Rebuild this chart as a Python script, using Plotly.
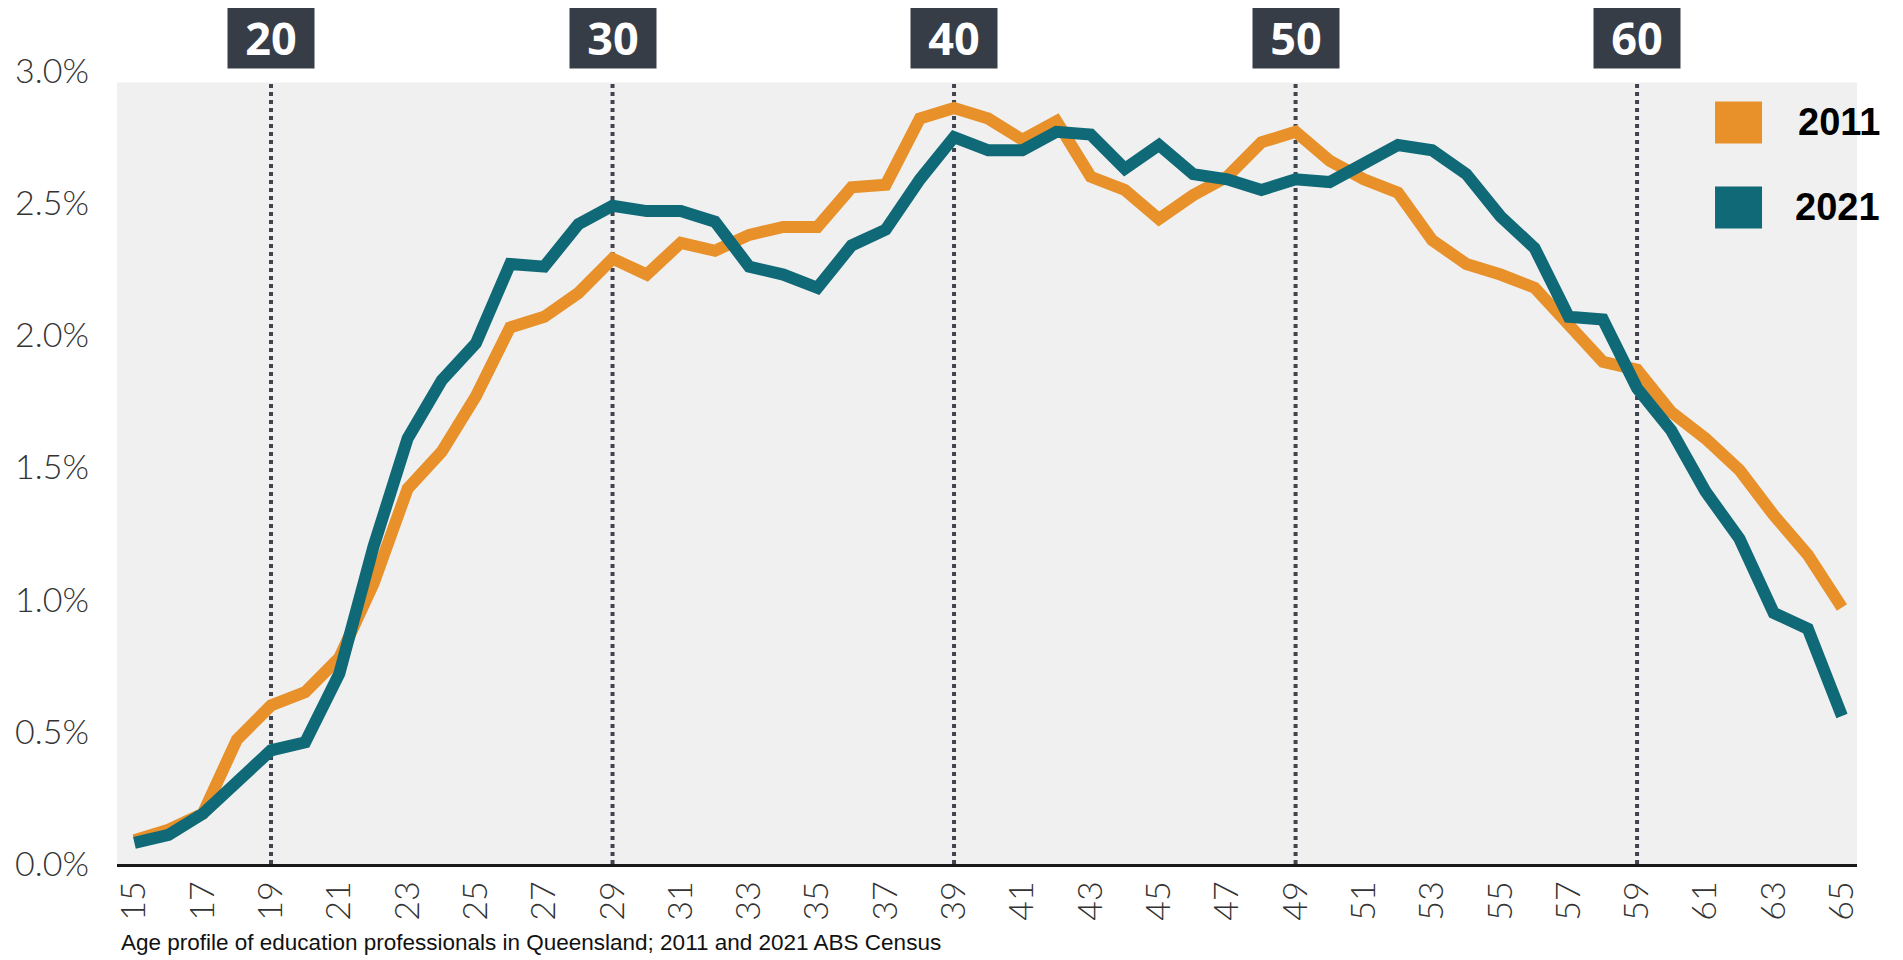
import plotly.graph_objects as go

ages = list(range(15, 66))
pct_2011 = [0.09, 0.13, 0.19, 0.47, 0.60, 0.65, 0.78, 1.06, 1.42, 1.56,
            1.77, 2.03, 2.07, 2.16, 2.29, 2.23, 2.35, 2.32, 2.38, 2.41,
            2.41, 2.56, 2.57, 2.82, 2.86, 2.82, 2.74, 2.81, 2.60, 2.55,
            2.44, 2.53, 2.60, 2.73, 2.77, 2.66, 2.59, 2.54, 2.36, 2.27,
            2.23, 2.18, 2.04, 1.90, 1.87, 1.71, 1.61, 1.49, 1.32, 1.17,
            0.97]
pct_2021 = [0.08, 0.11, 0.19, 0.31, 0.43, 0.46, 0.72, 1.20, 1.61, 1.83,
            1.97, 2.27, 2.26, 2.42, 2.49, 2.47, 2.47, 2.43, 2.26, 2.23,
            2.18, 2.34, 2.40, 2.59, 2.75, 2.70, 2.70, 2.77, 2.76, 2.63,
            2.72, 2.61, 2.59, 2.55, 2.59, 2.58, 2.65, 2.72, 2.70, 2.61,
            2.45, 2.33, 2.07, 2.06, 1.80, 1.64, 1.41, 1.23, 0.95, 0.89,
            0.56]
series_names = ["2011", "2021"]
series_colors = ["#E8902A", "#0F6976"]
marker_ages = [19, 29, 39, 49, 59]
marker_labels = ["20", "30", "40", "50", "60"]
x_ticks = list(range(15, 66, 2))
y_ticks = [0.0, 0.5, 1.0, 1.5, 2.0, 2.5, 3.0]
caption = "Age profile of education professionals in Queensland; 2011 and 2021 ABS Census"

OFF = 8  # page body margin
W, H = 1903 - OFF, 960 - OFF
M_L, M_R, M_T, M_B = 116.5 - OFF, 46, 70.5 - OFF, 96
plot_w = W - M_L - M_R
plot_h = H - M_T - M_B
BOTTOM = H - M_B  # figure px of plot bottom


def px(xs):
    return (xs - OFF - M_L) / plot_w


def py(ys):
    return (BOTTOM - (ys - OFF)) / plot_h


gray_top = py(82)

fig = go.Figure()
for name, vals, col in zip(series_names, [pct_2011, pct_2021], series_colors):
    fig.add_trace(go.Scatter(x=ages, y=vals, mode="lines", name=name,
                             line=dict(color=col, width=12),
                             showlegend=False, hoverinfo="skip"))

shapes = [dict(type="rect", xref="paper", yref="paper", x0=0, x1=1, y0=0, y1=gray_top,
               fillcolor="#F0F0F0", line=dict(width=0), layer="below")]
for a in marker_ages:
    shapes.append(dict(type="line", xref="x", yref="paper", x0=a, x1=a, y0=0, y1=gray_top,
                       line=dict(color="#3F444E", width=4, dash="dot"), layer="below"))

annotations = []
for a, lab in zip(marker_ages, marker_labels):
    annotations.append(dict(x=a, xref="x", y=py(36.5), yref="paper",
                            text=lab, showarrow=False, width=86, height=61,
                            bgcolor="#373D47", borderpad=0, align="center", valign="middle",
                            xanchor="center", yanchor="middle",
                            font=dict(family="Open Sans", size=45, color="white", weight=700)))

# legend drawn as squares + labels
leg_y = [122, 207]
for name, col, yc in zip(series_names, series_colors, leg_y):
    shapes.append(dict(type="rect", xref="paper", yref="paper",
                       x0=px(1715), x1=px(1762), y0=py(yc + 21), y1=py(yc - 21),
                       fillcolor=col, line=dict(width=0)))
    annotations.append(dict(x=px(1882), xref="paper", y=py(yc), yref="paper",
                            text=name, showarrow=False, xanchor="right", yanchor="middle",
                            font=dict(family="Liberation Sans, Arial, sans-serif", size=38,
                                      color="black", weight=700)))

annotations.append(dict(x=px(119), xref="paper", y=py(943), yref="paper",
                        text=caption, showarrow=False, xanchor="left", yanchor="middle",
                        font=dict(family="Liberation Sans, Arial, sans-serif", size=22.5,
                                  color="#111111")))

fig.update_layout(
    width=W, height=H,
    margin=dict(l=M_L, r=M_R, t=M_T, b=M_B, autoexpand=False),
    paper_bgcolor="white", plot_bgcolor="rgba(0,0,0,0)",
    shapes=shapes, annotations=annotations,
    xaxis=dict(range=[14.49, 65.44], tickmode="array", tickvals=x_ticks,
               ticktext=[str(v) for v in x_ticks], tickangle=-90, automargin=False,
               showgrid=False, zeroline=False, showline=True, linecolor="#1a1a1a", linewidth=2.5,
               ticks="", ticklabelstandoff=1,
               tickfont=dict(family="Lato", size=34, color="#333333", weight=300)),
    yaxis=dict(range=[0, 3.0], tickmode="array", tickvals=y_ticks, automargin=False,
               ticktext=[f"{v:.1f}%" for v in y_ticks],
               showgrid=False, zeroline=False, showline=False, ticks="",
               ticklabelstandoff=27,
               tickfont=dict(family="Lato", size=34, color="#333333", weight=300)),
)

fig.write_html("out.html")
